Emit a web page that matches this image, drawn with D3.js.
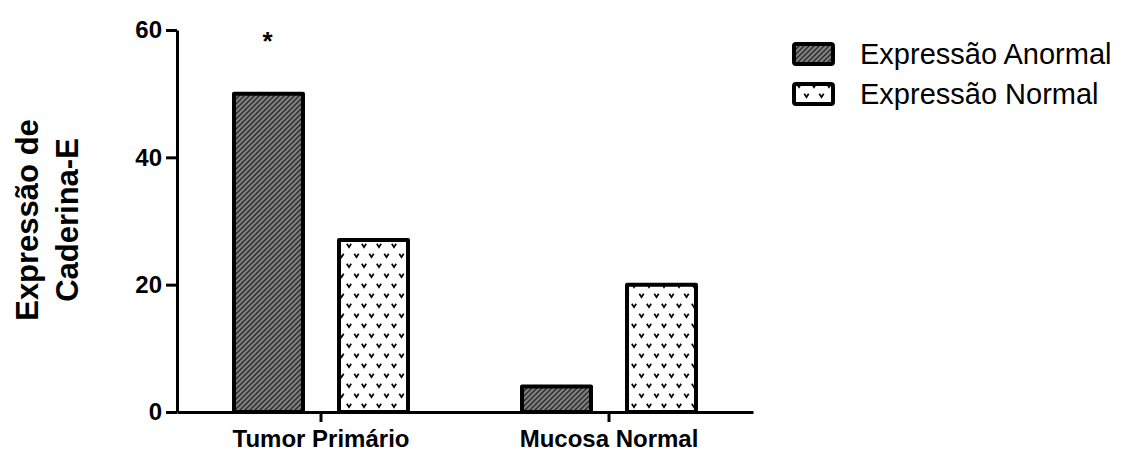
<!DOCTYPE html>
<html>
<head>
<meta charset="utf-8">
<script src="https://cdn.jsdelivr.net/npm/d3@7"></script>
<style>
  body { margin: 0; background: #fff; }
  svg text { font-family: "Liberation Sans", Arial, sans-serif; }
</style>
</head>
<body>
<div id="canvas"></div>
<script>
"use strict"

/* chart values */
const categories = ["Tumor Primário", "Mucosa Normal"];
const seriesNames = ["Expressão Anormal", "Expressão Normal"];
const abnormal = [50, 4];
const normal = [27, 20];
const stars = ["*", ""];
const yTicks = [0, 20, 40, 60];

let drawing = d3.select("#canvas")
    .append("svg")
    .attr("width", 1130)
    .attr("height", 454);

/* fill patterns */
let defs = drawing.append("defs");

let hatch = defs.append("pattern")
    .attr("id", "hatch")
    .attr("patternUnits", "userSpaceOnUse")
    .attr("width", 5)
    .attr("height", 5);
hatch.append("rect").attr("width", 5).attr("height", 5).attr("fill", "#808080");
hatch.append("path")
    .attr("d", "M-1,6 L6,-1 M-1,1 L1,-1 M4,6 L6,4")
    .attr("stroke", "#2b2b2b")
    .attr("stroke-width", 1.4);

let dots = defs.append("pattern")
    .attr("id", "dots")
    .attr("patternUnits", "userSpaceOnUse")
    .attr("width", 15)
    .attr("height", 20);
dots.append("rect").attr("width", 15).attr("height", 20).attr("fill", "#fff");
dots.append("path")
    .attr("d", "M1.8,3.8 L4,7.2 L6.2,3.8 M9.3,13.8 L11.5,17.2 L13.7,13.8")
    .attr("fill", "none")
    .attr("stroke", "#000")
    .attr("stroke-width", 1.7);

const fills = ["url(#hatch)", "url(#dots)"];

/* scales */
let x = d3.scaleBand().domain(categories).range([177, 753]);
let inner = d3.scaleBand().domain(seriesNames).range([-89, 89]).paddingInner(0.305);
let y = d3.scaleLinear().domain([0, 60]).range([412, 30]);

/* bars */
let rows = categories.map((c, i) => ({ cat: c, vals: [abnormal[i], normal[i]], star: stars[i] }));

rows.forEach(r => {
    let cx = x(r.cat) + x.bandwidth() / 2;
    seriesNames.forEach((s, j) => {
        drawing.append("rect")
            .attr("x", cx + inner(s) + 2)
            .attr("y", y(r.vals[j]))
            .attr("width", inner.bandwidth() - 4)
            .attr("height", y(0) - y(r.vals[j]))
            .attr("fill", fills[j])
            .attr("stroke", "#000")
            .attr("stroke-width", 4)
            .attr("stroke-linejoin", "round");
    });
    if (r.star) {
        drawing.append("text")
            .attr("x", cx + inner(seriesNames[0]) + inner.bandwidth() / 2 - 1)
            .attr("y", 50)
            .attr("text-anchor", "middle")
            .attr("font-size", 26)
            .attr("font-weight", "bold")
            .text(r.star);
    }
});

/* axes */
let yAxis = drawing.append("g")
    .attr("transform", "translate(177,0)")
    .call(d3.axisLeft(y).tickValues(yTicks).tickSize(11).tickSizeOuter(0).tickPadding(4));

let xAxis = drawing.append("g")
    .attr("transform", "translate(0,412)")
    .call(d3.axisBottom(x).tickSize(10).tickSizeOuter(0).tickPadding(8));

drawing.selectAll(".domain, .tick line")
    .attr("stroke", "#000")
    .attr("stroke-width", 3);

yAxis.selectAll("text")
    .attr("font-size", 24)
    .attr("font-weight", "bold")
    .attr("fill", "#000")
    .style("font-family", "'Liberation Sans', Arial, sans-serif");

xAxis.selectAll("text")
    .attr("font-size", 24)
    .attr("font-weight", "bold")
    .attr("fill", "#000")
    .style("font-family", "'Liberation Sans', Arial, sans-serif");

/* y label */
let ylab = drawing.append("text")
    .attr("transform", "translate(0,220) rotate(-90)")
    .attr("text-anchor", "middle")
    .attr("font-size", 31)
    .attr("font-weight", "bold");
ylab.append("tspan").attr("x", 0).attr("y", 38).text("Expressão de");
ylab.append("tspan").attr("x", 0).attr("y", 78).text("Caderina-E");

/* legend */
seriesNames.forEach((s, j) => {
    let ly = 54 + j * 40;
    drawing.append("rect")
        .attr("x", 794)
        .attr("y", ly - 10)
        .attr("width", 39)
        .attr("height", 20)
        .attr("rx", 2)
        .attr("fill", fills[j])
        .attr("stroke", "#000")
        .attr("stroke-width", 4)
        .attr("stroke-linejoin", "round");
    drawing.append("text")
        .attr("x", 860)
        .attr("y", ly + 10)
        .attr("font-size", 29)
        .attr("fill", "#000")
        .text(s);
});
</script>
</body>
</html>
